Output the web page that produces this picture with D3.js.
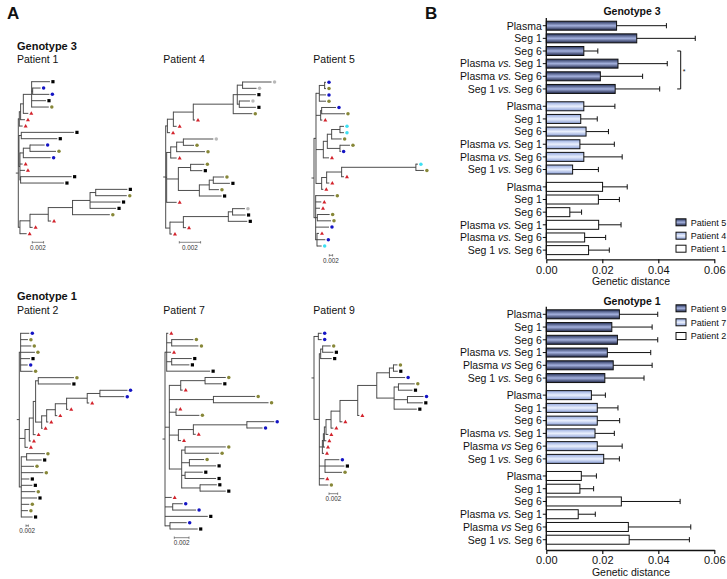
<!DOCTYPE html>
<html><head><meta charset="utf-8">
<script src="https://cdn.jsdelivr.net/npm/d3@7"></script>
<style>body{margin:0;background:#fff} svg{display:block} text{font-family:"Liberation Sans",Arial,Helvetica,sans-serif;fill:#111}</style>
</head><body><svg id="c" width="727" height="579"></svg>
<script>
// ---------------- DATA ----------------
// Panel B: genetic distance (mean, SD)
const comparisonsG3 = ["Plasma","Seg 1","Seg 6","Plasma vs. Seg 1","Plasma vs. Seg 6","Seg 1 vs. Seg 6"];
const comparisonsG1 = ["Plasma","Seg 1","Seg 6","Plasma vs. Seg 1","Plasma vs Seg 6","Seg 1 vs. Seg 6"];
const patientsG3 = ["Patient 5","Patient 4","Patient 1"];
const patientsG1 = ["Patient 9","Patient 7","Patient 2"];
const meanG3 = [
  [0.0251,0.0323,0.0134,0.0256,0.0193,0.0246],
  [0.0134,0.0123,0.0142,0.0120,0.0134,0.0094],
  [0.0201,0.0186,0.0084,0.0187,0.0137,0.0151]];
const sdG3 = [
  [0.0178,0.0209,0.0050,0.0176,0.0151,0.0159],
  [0.0111,0.0059,0.0080,0.0123,0.0137,0.0092],
  [0.0088,0.0075,0.0042,0.0080,0.0075,0.0074]];
const meanG1 = [
  [0.0261,0.0234,0.0254,0.0218,0.0239,0.0209],
  [0.0161,0.0182,0.0182,0.0174,0.0182,0.0205],
  [0.0125,0.0120,0.0268,0.0114,0.0293,0.0296]];
const sdG1 = [
  [0.0137,0.0144,0.0144,0.0155,0.0139,0.0140],
  [0.0050,0.0074,0.0080,0.0069,0.0089,0.0056],
  [0.0054,0.0049,0.0210,0.0061,0.0223,0.0215]];
const xTicks = [0, 0.02, 0.04, 0.06];
const sigPairG3 = [2, 5];      // bracket rows (Seg 6 .. Seg 1 vs. Seg 6), patient 5
const sigValueG3 = 0.048;

// Panel A: trees, Newick; number after ':' = distance from root (units 1e-4 subst./site)
// leaf names = sequence source: tr, sq, bl, ol, g, cy
const treeP1 = "(((((sq:56,(bl:39.5,bl:55):25.4,sq:49,ol:54):23.6,tr:17.7):8.9,tr:11.8):4.1,tr:7.7):1.8,((sq:98.5,sq:69):5.3,(((bl:46.6,ol:66.7):20.7,bl:57.2):8.9,tr:7.7,tr:11.8,(sq:94.4,sq:80.8):4.1):2.9):1.2,((((((sq:193,ol:192):137,sq:181,sq:173):127,ol:162):96,tr:58):53,tr:25.4):20.7,tr:14.8):2.9):0";
const treeP4 = "(((((((g:99.4,g:85.3):72.2,sq:84.7,(g:79.1,sq:84.7):69.1):67.2,ol:81.3):63.4,tr:27.5):25.9,tr:10.3):7.2,tr:4.1):1.6,((((g:44.7,ol:26.6):16.6,ol:36.9):10.3,tr:10.3):4.7,((ol:36.3,sq:34.4):23.4,(((ol:54.7,sq:60.3):44.7,ol:50):40.9,sq:52.5):31.6):11.9,tr:10.3):0.9,((((g:74.4,sq:75):62.8,sq:76.6):58.8,tr:19.1):16.6,tr:5.9):4):0";
const treeP5 = "((((bl:72,ol:72):64,bl:72,ol:72):32,((bl:132,ol:186):46,tr:50):40,((((cy:180,cy:180):156,ol:166):106,(ol:216,bl:160):156):80,tr:90):56,((((cy:624,ol:660):612,tr:180):166,tr:92):76,tr:56):46):12,(ol:122,tr:44,tr:36,(ol:94,ol:102):20,bl:90,(tr:30,bl:68,cy:46):18):10):0";
const treeP2 = "((bl:86,ol:74,ol:103,ol:134,sq:92,bl:72,ol:114):11.4,(((((ol:469,sq:443):163,((((((bl:929,bl:901):692,tr:600):583,tr:420):406,tr:326):309,tr:249):235,tr:200):192):140,tr:140):120,tr:100):86,tr:74):49,((ol:220,sq:192):63,ol:126,ol:206,sq:86,sq:112,ol:137,sq:152,ol:86,ol:74,sq:114):17):0";
const treeP7 = "((tr:4.5,(ol:38.6,ol:45.5):9.1,tr:8.2,(sq:36.4,sq:33.2):9.1,sq:61.4):2.3,(((ol:82.7,sq:77.3):54.5,tr:24.1):21.4,(ol:122.7,ol:140.9):65.9,(tr:16.8,ol:46.8):15,(((bl:148.6,bl:132.7):111.4,tr:41.8):38.6,tr:21.8):18.2,((ol:82.7,ol:73.6):27.3,(ol:53.2,sq:69.5):33.2,(sq:51.4,sq:69.5):27.3,(sq:70.5,sq:82.7):47.7):22.7):5.9,tr:9.1,(bl:24.1,bl:42.3):10.5,sq:58.2,(bl:29.5,sq:44.5):6.8):0";
const treeP9 = "((bl:17.7,bl:17.7):10,(((ol:38.5,sq:44.7):20,sq:40.8):15.4,((((((((((ol:192.5,sq:193.3):183.3,bl:210.2):174,((ol:232.5,sq:227.2):194.8,(bl:252.6,sq:251):215.6,sq:237.2):184.8):144.8,tr:104.7):100.9,tr:65.5):60,tr:44.7):39.3,tr:33.1):27.7,tr:28.5):23.9,tr:25.4):21.6,tr:23.1):19.3,(bl:58.5,sq:70.1,ol:64.7):25.4,tr:23.9,ol:33.1):12.3):0";
const scaleBarValue = 20; // 0.002 in 1e-4 units
const scaleBarLabel = "0.002";

// ---------------- DRAW ----------------
const svg = d3.select("#c");
const defs = svg.append("defs");
function grad(id, stops){
  const g = defs.append("linearGradient").attr("id", id).attr("x1",0).attr("y1",0).attr("x2",0).attr("y2",1);
  stops.forEach(s => g.append("stop").attr("offset", s[0]).attr("stop-color", s[1]));
}
grad("gDark", [[0,"#26325a"],[0.5,"#a4b1de"],[1,"#1f2749"]]);
grad("gLight", [[0,"#93a8de"],[0.5,"#eaf0fd"],[1,"#8a9fd7"]]);
const fills = ["url(#gDark)","url(#gLight)","#ffffff"];

// panel letters
svg.append("text").attr("x",7).attr("y",19).style("font-size","17px").style("font-weight","bold").text("A");
svg.append("text").attr("x",425).attr("y",18.5).style("font-size","17px").style("font-weight","bold").text("B");

const x = d3.scaleLinear().domain([0, 0.06]).range([546.3, 714.3]);

function labelText(sel, s){
  const parts = s.split(/(vs\.?)/);
  parts.forEach(p => { if(!p) return; const t = sel.append("tspan").text(p); if(/^vs/.test(p)) t.style("font-style","italic"); });
}

function barPanel(cfg){
  const g = svg.append("g");
  const y = d3.scaleLinear().domain([0,1]).range([cfg.firstY, cfg.firstY + cfg.step]);
  const rows = [];
  cfg.means.forEach((arr, gi) => arr.forEach((m, ri) => rows.push({gi, ri, m, sd: cfg.sds[gi][ri], label: cfg.labels[ri], slot: gi*6 + ri + gi*cfg.gap})));
  g.selectAll("rect.bar").data(rows).join("rect")
    .attr("x", x(0)).attr("y", d => y(d.slot) - 4.5)
    .attr("width", d => x(d.m) - x(0)).attr("height", 9)
    .attr("fill", d => fills[d.gi]).attr("stroke", "#111").attr("stroke-width", 1);
  g.selectAll("line.err").data(rows).join("line")
    .attr("x1", d => x(d.m)).attr("x2", d => x(d.m + d.sd))
    .attr("y1", d => y(d.slot)).attr("y2", d => y(d.slot)).attr("stroke", "#111").attr("stroke-width", 1);
  g.selectAll("line.cap").data(rows).join("line")
    .attr("x1", d => x(d.m + d.sd)).attr("x2", d => x(d.m + d.sd))
    .attr("y1", d => y(d.slot) - 2.6).attr("y2", d => y(d.slot) + 2.6).attr("stroke", "#111").attr("stroke-width", 1);
  g.selectAll("line.ytick").data(rows).join("line")
    .attr("x1", x(0) - 3.5).attr("x2", x(0)).attr("y1", d => y(d.slot)).attr("y2", d => y(d.slot))
    .attr("stroke", "#111").attr("stroke-width", 1);
  g.selectAll("text.lab").data(rows).join("text")
    .attr("x", x(0) - 4.5).attr("y", d => y(d.slot) + 3.8).attr("text-anchor","end")
    .style("font-size","10.5px").each(function(d){ labelText(d3.select(this), d.label); });
  g.append("line").attr("x1", x(0)).attr("x2", x(0)).attr("y1", cfg.axisTop).attr("y2", cfg.axisY)
    .attr("stroke","#111").attr("stroke-width",1.3);
  const ax = g.append("g").attr("transform", `translate(0,${cfg.axisY})`)
    .call(d3.axisBottom(x).tickValues(xTicks).tickFormat(d3.format(".2f")).tickSize(4).tickSizeOuter(0));
  ax.select(".domain").attr("stroke","#111").attr("stroke-width",1.3);
  ax.selectAll(".tick line").attr("stroke","#111").attr("stroke-width",1.2);
  ax.selectAll(".tick text").style("font-size","11px").style("font-family",'"Liberation Sans",Arial,sans-serif').attr("fill","#111").attr("y",6.5);
  g.append("text").attr("x", 631).attr("y", cfg.axisY + 25.5).attr("text-anchor","middle").style("font-size","10.5px").text("Genetic distance");
  g.append("text").attr("x", 632).attr("y", cfg.titleY).attr("text-anchor","middle").style("font-size","10.5px").style("font-weight","bold").text(cfg.title);
  const lg = g.selectAll("g.leg").data(cfg.patients).join("g")
    .attr("transform", (d,i) => `translate(676,${cfg.legendY[i]})`);
  lg.append("rect").attr("x",0).attr("y",-3.5).attr("width",10).attr("height",7)
    .attr("fill",(d,i)=>fills[i]).attr("stroke","#111").attr("stroke-width",1);
  lg.append("text").attr("x",14.7).attr("y",3.3).style("font-size","9px").text(d => d);
  if (cfg.sig){
    const xs = x(cfg.sig.value), y1 = y(cfg.sig.rows[0]), y2 = y(cfg.sig.rows[1]);
    g.append("path").attr("d", `M${xs-3.5},${y1}H${xs}V${y2}H${xs-3.5}`).attr("fill","none").attr("stroke","#111").attr("stroke-width",1);
    g.append("text").attr("x", xs + 2).attr("y", (y1+y2)/2 + 4).style("font-size","7px").text("*");
  }
}

barPanel({title:"Genotype 3", titleY:15, firstY:25.7, step:12.65, gap:0.37, axisTop:18, axisY:259.3,
  means:meanG3, sds:sdG3, labels:comparisonsG3, patients:patientsG3, legendY:[222.3,235.7,248.7],
  sig:{rows:sigPairG3, value:sigValueG3}});
barPanel({title:"Genotype 1", titleY:304.7, firstY:314.3, step:12.75, gap:0.34, axisTop:306.7, axisY:550,
  means:meanG1, sds:sdG1, labels:comparisonsG1, patients:patientsG1, legendY:[308.3,322.3,336]});

// ---- trees ----
function parseNewick(str){
  const s = str.replace(/\s+/g,"");
  let i = 0;
  function node(){
    const n = {children: []};
    if (s[i] === "("){
      i++;
      n.children.push(node());
      while (s[i] === ","){ i++; n.children.push(node()); }
      if (s[i] !== ")") throw new Error("Newick parse error at " + i);
      i++;
    } else {
      let name = "";
      while (i < s.length && !":,()".includes(s[i])) name += s[i++];
      n.type = name;
    }
    if (s[i] === ":"){
      i++; let num = "";
      while (i < s.length && !",()".includes(s[i])) num += s[i++];
      n.h = +num;
    }
    return n;
  }
  return node();
}

const markStyle = {
  tr:{shape:"tri", fill:"#d3222b"},
  sq:{shape:"sq", fill:"#000000"},
  bl:{shape:"dot", fill:"#1414c4"},
  ol:{shape:"dot", fill:"#878738"},
  g:{shape:"dot", fill:"#b8b8b8"},
  cy:{shape:"dot", fill:"#3ee0f2"}
};

const treeLayout = [
  {nwk:treeP1, rootX:18.3, y0:81.7, y1:233.7, px:11.3, sbX:32.3, sbY:242.3},
  {nwk:treeP4, rootX:165.7, y0:82, y1:234, px:21.3, sbX:179.3, sbY:242.3},
  {nwk:treeP5, rootX:314, y0:82.3, y1:246, px:3.33, sbX:329.3, sbY:255.3},
  {nwk:treeP2, rootX:19.3, y0:333.3, y1:517, px:2.33, sbX:26, sbY:525.7},
  {nwk:treeP7, rootX:165, y0:333.3, y1:529, px:14.7, sbX:174.3, sbY:537.7},
  {nwk:treeP9, rootX:314, y0:333.3, y1:485, px:8.67, sbX:329, sbY:493.7}
];

const triSym = d3.symbol().type(d3.symbolTriangle).size(7);
treeLayout.forEach(cfg => {
  const root = d3.hierarchy(parseNewick(cfg.nwk));
  const leaves = root.leaves();
  const ty = d3.scaleLinear().domain([0, leaves.length - 1]).range([cfg.y0, cfg.y1]);
  const tx = d3.scaleLinear().domain([0, scaleBarValue]).range([cfg.rootX, cfg.rootX + cfg.px]);
  leaves.forEach((l, k) => l.yy = ty(k));
  root.eachAfter(n => { if (n.children) n.yy = (n.children[0].yy + n.children[n.children.length-1].yy) / 2; });
  const g = svg.append("g").attr("stroke","#3a3a3a").attr("stroke-width",0.9);
  const internal = root.descendants().filter(n => n.children);
  g.selectAll("line.v").data(internal).join("line")
    .attr("x1", n => tx(n.data.h)).attr("x2", n => tx(n.data.h))
    .attr("y1", n => n.children[0].yy - 0.45).attr("y2", n => n.children[n.children.length-1].yy + 0.45);
  g.selectAll("line.h").data(root.descendants().filter(n => n.parent)).join("line")
    .attr("x1", n => tx(n.parent.data.h)).attr("x2", n => tx(n.data.h))
    .attr("y1", n => n.yy).attr("y2", n => n.yy);
  g.append("line").attr("x1", tx(0) - 2.5).attr("x2", tx(0)).attr("y1", root.yy).attr("y2", root.yy);
  const mg = svg.append("g");
  leaves.forEach(l => {
    const st = markStyle[l.data.type];
    const mx = tx(l.data.h) + 3, my = l.yy;
    if (st.shape === "sq") mg.append("rect").attr("x", mx - 1.6).attr("y", my - 1.6).attr("width", 3.2).attr("height", 3.2).attr("fill", st.fill);
    else if (st.shape === "dot") mg.append("circle").attr("cx", mx).attr("cy", my).attr("r", 1.75).attr("fill", st.fill);
    else mg.append("path").attr("d", triSym()).attr("transform", `translate(${mx},${my + 0.3})`).attr("fill", st.fill);
  });
  const w = tx(scaleBarValue) - tx(0);
  const sb = svg.append("g").attr("stroke","#555").attr("stroke-width",0.7);
  sb.append("line").attr("x1", cfg.sbX).attr("x2", cfg.sbX + w).attr("y1", cfg.sbY).attr("y2", cfg.sbY);
  sb.append("line").attr("x1", cfg.sbX).attr("x2", cfg.sbX).attr("y1", cfg.sbY - 1.2).attr("y2", cfg.sbY + 1.2);
  sb.append("line").attr("x1", cfg.sbX + w).attr("x2", cfg.sbX + w).attr("y1", cfg.sbY - 1.2).attr("y2", cfg.sbY + 1.2);
  svg.append("text").attr("x", cfg.sbX + w/2).attr("y", cfg.sbY + 7.6).attr("text-anchor","middle")
    .style("font-size","6.3px").style("fill","#333").text(scaleBarLabel);
});

const treeTitles = [
  {t:"Genotype 3", x:17, y:49.5, b:true}, {t:"Patient 1", x:17, y:63}, {t:"Patient 4", x:163.3, y:63}, {t:"Patient 5", x:313.3, y:63},
  {t:"Genotype 1", x:17, y:299.5, b:true}, {t:"Patient 2", x:17, y:313.5}, {t:"Patient 7", x:163.3, y:313.5}, {t:"Patient 9", x:313.3, y:313.5}
];
svg.selectAll("text.tt").data(treeTitles).join("text")
  .attr("x", d => d.x).attr("y", d => d.y).style("font-size", d => d.b ? "11px" : "10.5px")
  .style("font-weight", d => d.b ? "bold" : "normal").text(d => d.t);
</script></body></html>
